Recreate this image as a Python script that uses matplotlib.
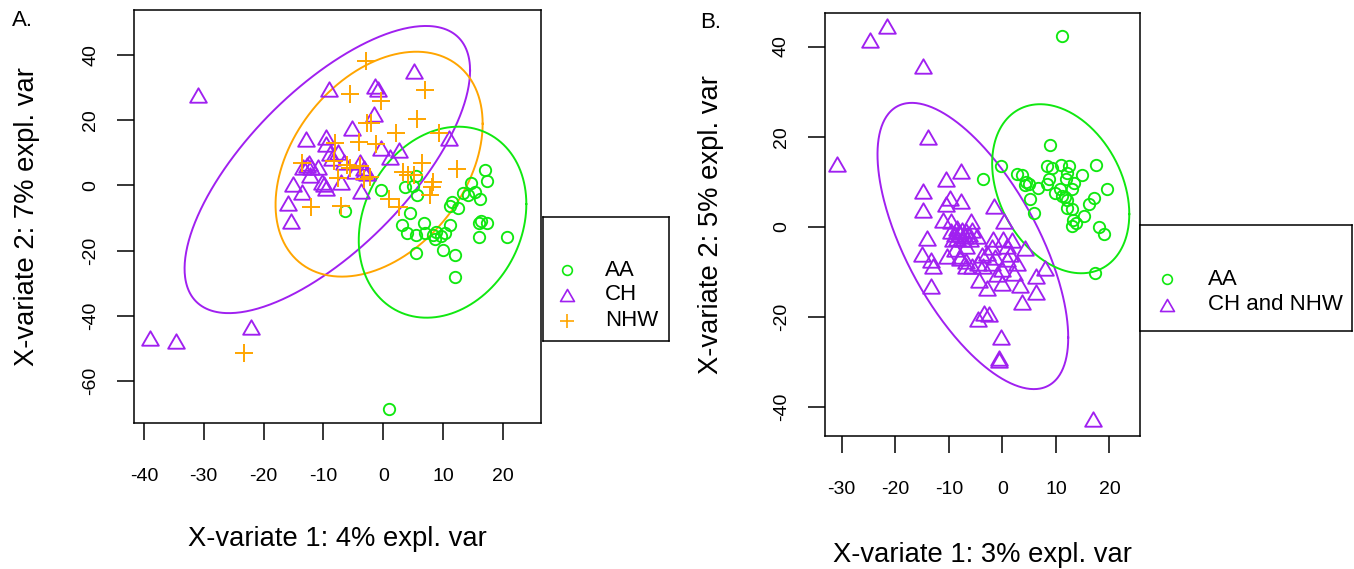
import numpy as np
import matplotlib
matplotlib.use("Agg")
import matplotlib.pyplot as plt
from matplotlib.path import Path

# ---------------- data ----------------
# Panel A
a_aa_x = [-6.4, -0.3, 3.6, 4.9, 5.5, 5.7, 4.5, 3.1, 4.0, 5.5, 6.8, 7.0, 8.3, 8.8, 8.6, 9.6, 10.3, 10.0, 11.1,
          12.0, 12.0, 5.5, 11.1, 11.5, 12.5, 13.4, 14.1, 14.6, 15.3, 16.2, 17.0, 17.3, 16.0, 16.4, 17.3, 16.0,
          20.6, 1.0]
a_aa_y = [-8.0, -1.5, -0.4, -0.1, 3.0, -3.1, -8.6, -12.2, -14.6, -15.1, -11.4, -14.7, -15.1, -14.3, -16.5, -15.6,
          -14.7, -19.7, -12.3, -21.3, -28.1, -20.7, -6.4, -5.1, -7.0, -2.4, -2.9, 0.8, -2.1, -4.2, 4.7, 1.3, -11.7,
          -11.0, -11.4, -15.7, -15.9, -68.5]
a_ch_x = [-30.9, -39.0, -34.7, -22.1, 5.2, -9.1, -1.4, -0.8, -1.5, -5.3, 10.9, -12.9, -9.6, -9.6, -8.9, -7.5,
          -8.6, -6.6, -0.3, 1.1, 2.7, -3.9, -3.3, -2.8, -4.7, -12.8, -13.4, -12.0, -10.9, -12.2, -10.3, -9.5,
          -9.9, -7.1, -15.1, -13.5, -15.9, -15.4, -3.7, -3.2, -12.4]
a_ch_y = [27.7, -46.9, -47.7, -43.6, 35.2, 29.6, 30.6, 29.6, 21.8, 17.5, 14.4, 14.2, 14.9, 12.7, 9.8, 10.3,
          8.3, 7.3, 11.4, 8.8, 10.9, 7.3, 4.2, 3.7, 4.5, 6.3, 5.7, 5.7, 5.7, 3.2, 0.9, -0.9,
          0.3, 0.9, 0.4, -1.9, -5.3, -10.8, -1.6, 5.4, 6.9]
a_nhw_x = [-2.9, -5.6, 7.0, -0.3, -2.8, -2.0, 5.7, 2.1, 9.3, -4.0, -1.3, -8.0, 6.4, 12.3, 3.3, 4.1, 5.1,
           8.3, 8.2, 7.8, 1.0, 2.6, -7.0, -12.0, -23.2, -13.6, -8.3, -6.1, -7.5, -5.6, -3.3, -3.9, -2.2]
a_nhw_y = [38.2, 28.0, 29.3, 25.9, 19.0, 19.0, 20.3, 16.2, 16.0, 13.2, 12.6, 13.0, 7.0, 5.0, 4.2, 3.3, 3.3,
           1.1, -0.5, -3.0, -4.2, -6.7, -6.2, -6.6, -51.5, 7.0, 7.5, 6.2, 2.2, 5.2, 1.9, 5.8, 2.7]

# Panel B
b_aa_x = [11.1, 8.9, -0.2, -3.7, 2.8, 3.6, 4.5, 4.9, 4.3, 5.2, 5.9, 6.7, 8.3, 8.7, 8.4, 9.2, 11.0, 12.4, 12.1,
          10.8, 9.9, 11.1, 11.9, 13.4, 13.0, 11.7, 12.0, 12.0, 13.0, 13.2, 13.8, 13.0, 14.8, 17.5, 19.6, 16.2,
          17.2, 15.3, 18.1, 18.9, 17.3]
b_aa_y = [42.4, 18.2, 13.4, 10.6, 11.7, 11.5, 10.0, 9.5, 9.2, 6.2, 3.0, 8.6, 9.4, 10.7, 13.4, 13.0, 13.7, 13.4,
          12.0, 8.3, 7.4, 6.9, 10.5, 9.8, 8.3, 6.6, 5.9, 4.2, 4.0, 1.5, 0.9, 0.2, 11.6, 13.8, 8.3, 5.0, 6.3,
          2.5, -0.1, -1.7, -10.2]
b_chnhw_x = [-21.6, -24.7, -14.9, -30.8, -13.8, 17.0,
             -7.8, -10.5, -14.9, -14.9, -9.7, -10.6, -7.7, -1.6, 0.3, -11.0, -9.6, -5.9, -14.0, -15.0, -13.3,
             -12.9, -13.3,
             -9.5, -8.5, -7.6, -6.7, -5.7, -8.5, -7.3, -6.0, -4.8, -7.9, -9.2, -6.7, -8.0, -7.0, -8.8, -6.2,
             -10.4, -7.9, -6.8, -5.7, -4.5, -8.8, -7.9, -6.7,
             -1.7, 0.2, 1.8, 4.2, 0.8, -2.9, -1.3, -2.0, 0.8, -3.6, -0.1, 2.1, 8.0, 6.3,
             -4.3, -2.9, -0.1, 3.3, 3.7, 6.3, -4.5, -3.5, -2.5, -0.2, -0.7, -0.6,
             -2.0, 1.5, -3.8, 2.8, -1.0]
b_chnhw_y = [44.6, 41.5, 35.7, 14.0, 19.9, -42.7,
             12.3, 10.5, 7.9, 3.8, 6.4, 5.0, 5.7, 4.7, 1.2, 1.6, 1.4, 1.4, -2.5, -6.1, -7.4,
             -8.7, -13.2,
             -1.0, -0.2, -0.6, -1.0, -0.6, -2.4, -2.8, -2.8, -2.1, -1.7, -2.8, -4.3, -1.2, -2.0, -1.5, -1.6,
             -6.5, -7.0, -8.6, -8.7, -8.0, -5.0, -6.5, -7.6,
             -2.8, -2.6, -3.0, -4.8, -4.3, -5.8, -6.7, -8.0, -7.2, -8.7, -9.3, -10.2, -9.1, -10.9,
             -11.8, -13.5, -12.4, -13.0, -16.6, -14.4, -20.5, -19.1, -19.4, -24.4, -29.0, -29.5,
             -4.5, -6.0, -6.2, -8.0, -10.5]

# Confidence ellipses (data units): centre, half-ranges, and cos(phase) giving tilt
a_ell_groups = ["CH", "NHW", "AA"]
a_ell_cx = [-9.35, -0.7, 9.9]
a_ell_cy = [4.85, 6.5, -11.3]
a_ell_rx = [23.85, 17.3, 14.0]
a_ell_ry = [44.05, 34.5, 29.3]
a_ell_c = [0.69, 0.36, 0.19]

b_ell_groups = ["CH and NHW", "AA"]
b_ell_cx = [-5.5, 10.9]
b_ell_cy = [-4.25, 8.45]
b_ell_rx = [17.8, 12.8]
b_ell_ry = [31.75, 18.75]
b_ell_c = [-0.64, -0.3]

a_xticks = [-40, -30, -20, -10, 0, 10, 20]
a_yticks = [-60, -40, -20, 0, 20, 40]
b_xticks = [-30, -20, -10, 0, 10, 20]
b_yticks = [-40, -20, 0, 20, 40]

a_legend = ["AA", "CH", "NHW"]
b_legend = ["AA", "CH and NHW"]

# ---------------- style ----------------
GREEN = "#10E810"
PURPLE = "#A020F0"
ORANGE = "#FFA500"
colors = {"AA": GREEN, "CH": PURPLE, "NHW": ORANGE, "CH and NHW": PURPLE}

tri = Path([(-1, -0.866), (1, -0.866), (0, 0.866), (-1, -0.866)],
           [Path.MOVETO, Path.LINETO, Path.LINETO, Path.CLOSEPOLY])
markers = {"AA": "o", "CH": tri, "NHW": "+", "CH and NHW": tri}
msize = {"AA": 8.2, "CH": 12.0, "NHW": 13.0, "CH and NHW": 12.0}
msize_leg = {"AA": 7.0, "CH": 10.0, "NHW": 10.0, "CH and NHW": 10.0}

plt.rcParams["font.family"] = ["Liberation Sans", "DejaVu Sans"]

W, H = 1354, 569
fig = plt.figure(figsize=(W / 100, H / 100), dpi=100)


def px_axes(l, t, r, b):
    return fig.add_axes([l / W, 1 - b / H, (r - l) / W, (b - t) / H])


def draw_ellipse(ax, cx, cy, rx, ry, c, color):
    t = np.linspace(0, 2 * np.pi, 400)
    phi = np.arccos(c)
    ax.plot(cx + rx * np.cos(t), cy + ry * np.cos(t - phi), color=color, lw=1.4, zorder=1)


def pts(ax, x, y, g):
    if g == "NHW":
        ax.plot(x, y, ls="none", marker="+", ms=msize[g], mew=1.4, color=colors[g], zorder=2)
    else:
        ax.plot(x, y, ls="none", marker=markers[g], ms=msize[g], mew=1.35, mfc="none",
                mec=colors[g], zorder=2)


def style_axes(ax, xticks, yticks, xlim, ylim):
    ax.set_xlim(*xlim)
    ax.set_ylim(*ylim)
    ax.set_xticks(xticks)
    ax.set_yticks(yticks)
    ax.set_xticklabels([str(v) for v in xticks])
    ax.set_yticklabels([str(v) for v in yticks], rotation=90, va="center")
    ax.tick_params(axis="both", direction="out", length=12.2, width=1.1, labelsize=14, colors="black")
    ax.tick_params(axis="x", pad=20)
    ax.tick_params(axis="y", pad=13)
    for s in ax.spines.values():
        s.set_linewidth(1.1)
        s.set_color("black")


def legend_box(l, t, r, b, labels, ys, mx, tx):
    lax = px_axes(l, t, r, b)
    lax.set_xlim(0, 1)
    lax.set_ylim(0, 1)
    lax.set_xticks([])
    lax.set_yticks([])
    for s in lax.spines.values():
        s.set_linewidth(1.1)
        s.set_color("black")
    for lab, yy in zip(labels, ys):
        fy = 1 - (yy - t) / (b - t)
        fmx = (mx - l) / (r - l)
        ftx = (tx - l) / (r - l)
        if lab == "NHW":
            lax.plot([fmx], [fy], ls="none", marker="+", ms=msize_leg[lab], mew=1.2, color=colors[lab])
        else:
            lax.plot([fmx], [fy], ls="none", marker=markers[lab], ms=msize_leg[lab], mew=1.2,
                     mfc="none", mec=colors[lab])
        lax.text(ftx, fy, lab, fontsize=16, va="center", ha="left")


# ---------------- panel A ----------------
axA = px_axes(134.3, 10, 540.7, 423.3)
for i, g in enumerate(a_ell_groups):
    draw_ellipse(axA, a_ell_cx[i], a_ell_cy[i], a_ell_rx[i], a_ell_ry[i], a_ell_c[i], colors[g])
pts(axA, a_aa_x, a_aa_y, "AA")
pts(axA, a_ch_x, a_ch_y, "CH")
pts(axA, a_nhw_x, a_nhw_y, "NHW")
style_axes(axA, a_xticks, a_yticks, (-41.6, 26.3), (-73.0, 53.8))

fig.text(337.5 / W, 1 - 539 / H, "X-variate 1: 4% expl. var", fontsize=19.7, ha="center", va="center")
fig.text(27 / W, 1 - 216.7 / H, "X-variate 2: 7% expl. var", fontsize=19.7, ha="center", va="center",
         rotation=90)
fig.text(12 / W, 1 - 20 / H, "A.", fontsize=16, ha="left", va="center")
legend_box(542.7, 217.3, 668.7, 341, a_legend, [270, 295, 321], 566.7, 605)

# ---------------- panel B ----------------
axB = px_axes(825, 12.7, 1140, 436)
for i, g in enumerate(b_ell_groups):
    draw_ellipse(axB, b_ell_cx[i], b_ell_cy[i], b_ell_rx[i], b_ell_ry[i], b_ell_c[i], colors[g])
pts(axB, b_aa_x, b_aa_y, "AA")
pts(axB, b_chnhw_x, b_chnhw_y, "CH and NHW")
style_axes(axB, b_xticks, b_yticks, (-33.1, 25.7), (-46.4, 47.5))

fig.text(982.5 / W, 1 - 555 / H, "X-variate 1: 3% expl. var", fontsize=19.7, ha="center", va="center")
fig.text(710.7 / W, 1 - 224.3 / H, "X-variate 2: 5% expl. var", fontsize=19.7, ha="center", va="center",
         rotation=90)
fig.text(700 / W, 1 - 22 / H, "B.", fontsize=16, ha="left", va="center")
legend_box(1140, 225, 1351.7, 331, b_legend, [279.3, 305], 1166.7, 1207.7)

fig.savefig("out.png", dpi=100)
